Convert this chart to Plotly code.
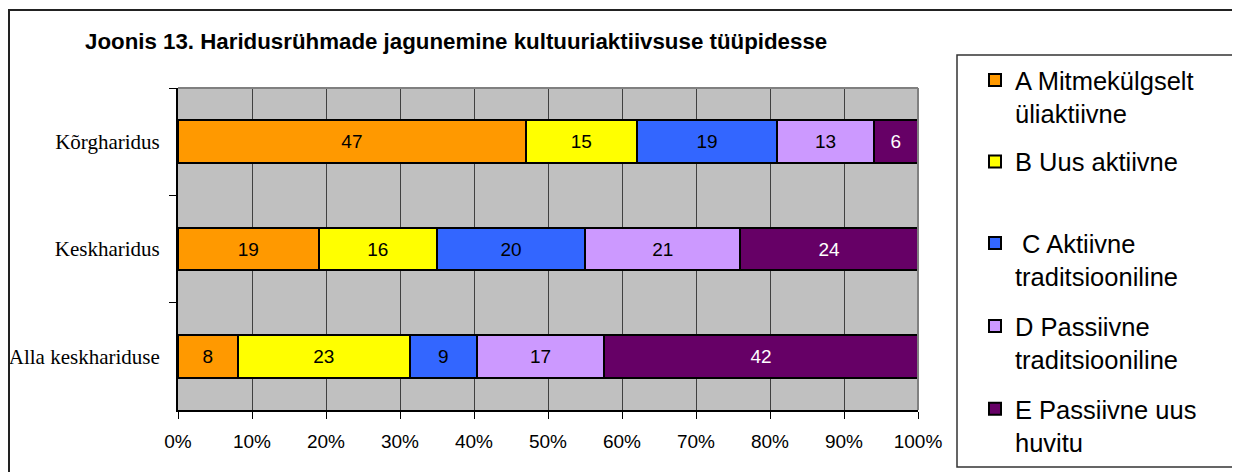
import plotly.graph_objects as go

categories = ["Kõrgharidus", "Keskharidus", "Alla keskhariduse"]
series_names = [
    "A Mitmekülgselt<br>üliaktiivne",
    "B Uus aktiivne",
    " C Aktiivne<br>traditsiooniline",
    "D Passiivne<br>traditsiooniline",
    "E Passiivne uus<br>huvitu",
]
A_vals = [47, 19, 8]
B_vals = [15, 16, 23]
C_vals = [19, 20, 9]
D_vals = [13, 21, 17]
E_vals = [6, 24, 42]
x_ticks = [0, 10, 20, 30, 40, 50, 60, 70, 80, 90, 100]
title_text = "Joonis 13. Haridusrühmade jagunemine kultuuriaktiivsuse tüüpidesse"

colors = ["#FF9900", "#FFFF00", "#3366FF", "#CC99FF", "#660066"]
text_colors = ["black", "black", "black", "black", "white"]
legend_ids = ["legend", "legend", "legend2", "legend2", "legend2"]
all_vals = [A_vals, B_vals, C_vals, D_vals, E_vals]

# page offset (body margin) and plot area in figure pixels
OFF = 8
W, H = 1240, 472
L, R, T, B = 170, 910, 80, 402

def px(xr):  # reference-screen x -> paper
    return (xr - OFF - L) / (R - L)

def py(yr):  # reference-screen y -> paper
    return (B - (yr - OFF)) / (B - T)

fig = go.Figure()
for i, (name, vals) in enumerate(zip(series_names, all_vals)):
    fig.add_trace(go.Bar(
        y=categories, x=vals, orientation="h", name=name,
        legendgroup=f"g{i}", legend=legend_ids[i],
        marker=dict(color=colors[i], line=dict(color="black", width=2)),
        text=[str(v) for v in vals], texttemplate="%{text}",
        textposition="inside", insidetextanchor="middle", textangle=0,
        insidetextfont=dict(family="Arial, Liberation Sans", size=19, color=text_colors[i]),
        hoverinfo="skip",
    ))

legend_font = dict(family="Arial, Liberation Sans", size=25.5, color="black")
legend_common = dict(xanchor="left", yanchor="top", font=legend_font,
                     traceorder="grouped", valign="top",
                     bgcolor="rgba(0,0,0,0)", borderwidth=0)

fig.update_layout(
    width=W, height=H,
    margin=dict(l=L, r=W - R, t=T, b=H - B, pad=0, autoexpand=False),
    barmode="stack", barnorm="percent", bargap=0.6,
    plot_bgcolor="#C0C0C0", paper_bgcolor="white",
    showlegend=True,
    legend=dict(x=px(975), y=py(57), tracegroupgap=12, **legend_common),
    legend2=dict(x=px(975), y=py(220), tracegroupgap=13.5, **legend_common),
    xaxis=dict(
        range=[0, 100], tickvals=x_ticks, ticktext=[f"{v}%" for v in x_ticks],
        showgrid=True, gridcolor="#404040", gridwidth=1, zeroline=False,
        showline=True, linecolor="black", linewidth=2,
        ticks="outside", ticklen=7, tickcolor="black", tickwidth=1,
        ticklabelstandoff=6, automargin=False,
        tickfont=dict(family="Arial, Liberation Sans", size=19, color="black"),
        fixedrange=True,
    ),
    yaxis=dict(
        categoryorder="array", categoryarray=categories, autorange="reversed",
        showgrid=False, zeroline=False,
        showline=True, linecolor="black", linewidth=2,
        ticks="outside", tickson="boundaries", ticklen=7, tickcolor="black", tickwidth=1,
        ticklabelstandoff=12, automargin=False,
        tickfont=dict(family="Liberation Serif, Times New Roman", size=21, color="black"),
        fixedrange=True,
    ),
    annotations=[dict(
        text=f"<b>{title_text}</b>", xref="paper", yref="paper",
        x=px(83), y=py(56), xanchor="left", yanchor="bottom", showarrow=False,
        font=dict(family="Arial, Liberation Sans", size=22.3, color="black"),
    )],
    shapes=[
        # outer chart border
        dict(type="rect", xref="paper", yref="paper", x0=px(9), x1=px(1300), y0=py(520), y1=py(10),
             line=dict(color="#222222", width=2), fillcolor="rgba(0,0,0,0)", layer="above"),
        # legend box
        dict(type="rect", xref="paper", yref="paper", x0=px(957), x1=px(1300), y0=py(467), y1=py(55),
             line=dict(color="#333333", width=1.5), fillcolor="rgba(0,0,0,0)", layer="above"),
        # plot area top and right borders (gray)
        dict(type="line", xref="paper", yref="paper", x0=0, x1=1, y0=1, y1=1,
             line=dict(color="#808080", width=2), layer="above"),
        dict(type="line", xref="paper", yref="paper", x0=1, x1=1, y0=0, y1=1,
             line=dict(color="#808080", width=2), layer="above"),
    ],
)

fig.write_html("out.html")
